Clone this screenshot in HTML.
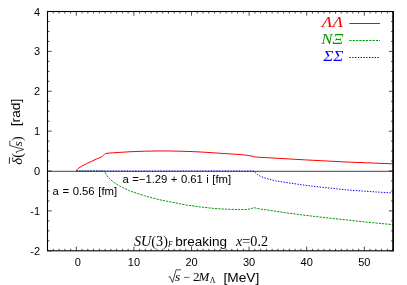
<!DOCTYPE html>
<html><head><meta charset="utf-8"><style>
html,body{margin:0;padding:0;background:#fff;}
svg{display:block;will-change:transform}
text{font-family:"Liberation Sans",sans-serif;font-size:11px;fill:#000}
.s{font-family:"Liberation Serif",serif;font-style:italic}
.r{font-family:"Liberation Serif",serif;font-style:normal}
</style></head><body>
<svg width="407" height="285" viewBox="0 0 407 285">
<rect width="407" height="285" fill="#fff"/>
<g style="filter:opacity(1)">
<path d="M47.5,171.3 H393.1" stroke="#000" stroke-width="0.75" fill="none"/>
<path d="M76.30,171.03 L76.88,169.84 L78.09,168.52 L81.83,166.13 L86.73,163.62 L91.68,161.22 L96.63,159.03 L101.53,156.91 L103.31,155.60 L104.52,154.28 L105.10,153.64 L105.79,153.40 L112.53,152.81 L120.08,152.37 L131.02,151.69 L144.61,151.21 L156.94,150.97 L169.04,150.97 L179.98,151.21 L193.80,151.65 L205.90,152.29 L215.00,152.93 L227.21,153.72 L239.88,154.52 L248.24,155.44 L251.98,156.08 L254.28,156.76 L256.59,157.07 L259.30,157.23 L265.23,157.59 L304.40,159.83 L345.00,161.94 L393.10,163.85" stroke="#f00" stroke-width="1" fill="none" stroke-linejoin="round"/>
<path d="M76.30,171.03 L104.52,171.03 L106.08,174.38 L107.98,177.02 L110.00,179.13 L112.30,181.20 L116.62,184.19 L119.79,186.03 L125.03,188.58 L129.70,190.94 L137.36,193.45 L144.27,195.64 L149.45,197.16 L162.12,200.35 L174.80,202.74 L185.74,204.93 L200.02,206.93 L214.54,208.52 L224.91,209.12 L235.05,209.48 L243.34,209.56 L247.37,209.40 L250.83,208.72 L254.05,207.57 L256.59,208.32 L259.47,208.88 L271.91,210.68 L284.81,212.67 L310.16,215.90 L334.92,218.77 L345.06,219.77 L364.30,221.88 L393.10,224.68" stroke="#009900" stroke-width="1" fill="none" stroke-dasharray="2.2,1.1"/>
<path d="M76.30,171.03 L254.00,171.03 L255.44,172.63 L257.28,174.42 L260.62,176.42 L263.38,177.53 L269.61,179.33 L275.71,180.84 L281.93,181.84 L287.98,182.76 L295.01,183.80 L307.28,185.55 L319.37,187.03 L332.04,188.30 L345.00,189.74 L364.30,191.17 L393.10,193.05" stroke="#0000ff" stroke-width="1" fill="none" stroke-dasharray="1.4,1.4"/>
<rect x="47.5" y="11.5" width="345.6" height="239.3" fill="none" stroke="#000" stroke-width="1.1"/>
<path d="M393.15,10.95 V251.35000000000002" stroke="#000" stroke-width="1.5"/>
<path d="M47.50,250.8 v-2.0 M47.50,11.5 v2.0 M53.26,250.8 v-2.0 M53.26,11.5 v2.0 M59.02,250.8 v-2.0 M59.02,11.5 v2.0 M64.78,250.8 v-2.0 M64.78,11.5 v2.0 M70.54,250.8 v-2.0 M70.54,11.5 v2.0 M76.30,250.8 v-4.2 M76.30,11.5 v4.2 M82.06,250.8 v-2.0 M82.06,11.5 v2.0 M87.82,250.8 v-2.0 M87.82,11.5 v2.0 M93.58,250.8 v-2.0 M93.58,11.5 v2.0 M99.34,250.8 v-2.0 M99.34,11.5 v2.0 M105.10,250.8 v-2.0 M105.10,11.5 v2.0 M110.86,250.8 v-2.0 M110.86,11.5 v2.0 M116.62,250.8 v-2.0 M116.62,11.5 v2.0 M122.38,250.8 v-2.0 M122.38,11.5 v2.0 M128.14,250.8 v-2.0 M128.14,11.5 v2.0 M133.90,250.8 v-4.2 M133.90,11.5 v4.2 M139.66,250.8 v-2.0 M139.66,11.5 v2.0 M145.42,250.8 v-2.0 M145.42,11.5 v2.0 M151.18,250.8 v-2.0 M151.18,11.5 v2.0 M156.94,250.8 v-2.0 M156.94,11.5 v2.0 M162.70,250.8 v-2.0 M162.70,11.5 v2.0 M168.46,250.8 v-2.0 M168.46,11.5 v2.0 M174.22,250.8 v-2.0 M174.22,11.5 v2.0 M179.98,250.8 v-2.0 M179.98,11.5 v2.0 M185.74,250.8 v-2.0 M185.74,11.5 v2.0 M191.50,250.8 v-4.2 M191.50,11.5 v4.2 M197.26,250.8 v-2.0 M197.26,11.5 v2.0 M203.02,250.8 v-2.0 M203.02,11.5 v2.0 M208.78,250.8 v-2.0 M208.78,11.5 v2.0 M214.54,250.8 v-2.0 M214.54,11.5 v2.0 M220.30,250.8 v-2.0 M220.30,11.5 v2.0 M226.06,250.8 v-2.0 M226.06,11.5 v2.0 M231.82,250.8 v-2.0 M231.82,11.5 v2.0 M237.58,250.8 v-2.0 M237.58,11.5 v2.0 M243.34,250.8 v-2.0 M243.34,11.5 v2.0 M249.10,250.8 v-4.2 M249.10,11.5 v4.2 M254.86,250.8 v-2.0 M254.86,11.5 v2.0 M260.62,250.8 v-2.0 M260.62,11.5 v2.0 M266.38,250.8 v-2.0 M266.38,11.5 v2.0 M272.14,250.8 v-2.0 M272.14,11.5 v2.0 M277.90,250.8 v-2.0 M277.90,11.5 v2.0 M283.66,250.8 v-2.0 M283.66,11.5 v2.0 M289.42,250.8 v-2.0 M289.42,11.5 v2.0 M295.18,250.8 v-2.0 M295.18,11.5 v2.0 M300.94,250.8 v-2.0 M300.94,11.5 v2.0 M306.70,250.8 v-4.2 M306.70,11.5 v4.2 M312.46,250.8 v-2.0 M312.46,11.5 v2.0 M318.22,250.8 v-2.0 M318.22,11.5 v2.0 M323.98,250.8 v-2.0 M323.98,11.5 v2.0 M329.74,250.8 v-2.0 M329.74,11.5 v2.0 M335.50,250.8 v-2.0 M335.50,11.5 v2.0 M341.26,250.8 v-2.0 M341.26,11.5 v2.0 M347.02,250.8 v-2.0 M347.02,11.5 v2.0 M352.78,250.8 v-2.0 M352.78,11.5 v2.0 M358.54,250.8 v-2.0 M358.54,11.5 v2.0 M364.30,250.8 v-4.2 M364.30,11.5 v4.2 M370.06,250.8 v-2.0 M370.06,11.5 v2.0 M375.82,250.8 v-2.0 M375.82,11.5 v2.0 M381.58,250.8 v-2.0 M381.58,11.5 v2.0 M387.34,250.8 v-2.0 M387.34,11.5 v2.0 M393.10,250.8 v-2.0 M393.10,11.5 v2.0 M47.5,250.80 h4.2 M393.1,250.80 h-4.2 M47.5,240.83 h2.0 M393.1,240.83 h-2.0 M47.5,230.86 h2.0 M393.1,230.86 h-2.0 M47.5,220.89 h2.0 M393.1,220.89 h-2.0 M47.5,210.92 h4.2 M393.1,210.92 h-4.2 M47.5,200.95 h2.0 M393.1,200.95 h-2.0 M47.5,190.98 h2.0 M393.1,190.98 h-2.0 M47.5,181.00 h2.0 M393.1,181.00 h-2.0 M47.5,171.03 h4.2 M393.1,171.03 h-4.2 M47.5,161.06 h2.0 M393.1,161.06 h-2.0 M47.5,151.09 h2.0 M393.1,151.09 h-2.0 M47.5,141.12 h2.0 M393.1,141.12 h-2.0 M47.5,131.15 h4.2 M393.1,131.15 h-4.2 M47.5,121.18 h2.0 M393.1,121.18 h-2.0 M47.5,111.21 h2.0 M393.1,111.21 h-2.0 M47.5,101.24 h2.0 M393.1,101.24 h-2.0 M47.5,91.27 h4.2 M393.1,91.27 h-4.2 M47.5,81.30 h2.0 M393.1,81.30 h-2.0 M47.5,71.33 h2.0 M393.1,71.33 h-2.0 M47.5,61.35 h2.0 M393.1,61.35 h-2.0 M47.5,51.38 h4.2 M393.1,51.38 h-4.2 M47.5,41.41 h2.0 M393.1,41.41 h-2.0 M47.5,31.44 h2.0 M393.1,31.44 h-2.0 M47.5,21.47 h2.0 M393.1,21.47 h-2.0 M47.5,11.50 h4.2 M393.1,11.50 h-4.2" stroke="#000" stroke-width="0.7" fill="none"/>
<text x="77.7" y="266.3" text-anchor="middle">0</text><text x="133.9" y="266.3" text-anchor="middle">10</text><text x="191.5" y="266.3" text-anchor="middle">20</text><text x="249.1" y="266.3" text-anchor="middle">30</text><text x="306.7" y="266.3" text-anchor="middle">40</text><text x="364.3" y="266.3" text-anchor="middle">50</text>
<text x="40" y="254.8" text-anchor="end">-2</text><text x="40" y="214.9" text-anchor="end">-1</text><text x="40" y="175.0" text-anchor="end">0</text><text x="40" y="135.2" text-anchor="end">1</text><text x="40" y="95.3" text-anchor="end">2</text><text x="40" y="55.4" text-anchor="end">3</text><text x="40" y="15.5" text-anchor="end">4</text>
<text x="52.5" y="195.3" style="word-spacing:0.5px;font-size:11.3px">a = 0.56 [fm]</text>
<text x="122.5" y="183.2" style="word-spacing:0.3px;font-size:11.3px">a =−1.29 + 0.61 i [fm]</text>
<text x="134" y="245.6" style="font-size:13.5px"><tspan class="s" style="font-size:14.2px">SU</tspan><tspan class="r" style="font-size:14.2px">(3)</tspan><tspan class="s" style="font-size:7.5px" dy="1.5">F</tspan></text>
<text x="175.2" y="245.6" style="font-size:13.5px">breaking</text>
<text x="236" y="245.6" style="font-size:13.5px"><tspan class="s" style="font-size:14.2px">x</tspan><tspan class="r" style="font-size:14.2px">=0.2</tspan></text>
<path d="M168.6,277.3 l1.4,-0.8 l2.5,6 l3.6,-12.7 H181" stroke="#000" stroke-width="0.7" fill="none"/>
<text x="175" y="281.2" class="s" style="font-size:13.5px">s</text>
<text x="183.6" y="281.2" class="r" style="font-size:12px">−</text>
<text x="192.9" y="281.2" class="r" style="font-size:13px">2</text>
<text x="198.4" y="281.2" class="s" style="font-size:13px">M</text>
<text x="209.8" y="283" class="r" style="font-size:8px">Λ</text>
<text x="223.5" y="281.6" style="font-size:13.7px">[MeV]</text>
<g transform="translate(21.5,165) rotate(-90)"><text x="0" y="0" style="font-size:13.5px"><tspan class="s" style="font-size:15px" x="0.3">δ</tspan><tspan class="r" style="font-size:14px" x="7.2">(</tspan><tspan class="s" style="font-size:13.5px" x="18.6">s</tspan><tspan class="r" style="font-size:14px" x="24">)</tspan><tspan x="38.8" y="-1.1" style="font-size:13.7px">[rad]</tspan></text>
<path d="M1.2,-12.1 H7.8" stroke="#000" stroke-width="0.8"/>
<path d="M11.7,-4.6 l1.4,-0.8 l2.5,7.6 l3.8,-13.9 H24.4" stroke="#000" stroke-width="0.7" fill="none"/>
</g>
<text transform="translate(343.2,27.4) scale(1.14,1)" text-anchor="end" class="s" style="font-size:15.5px;fill:#f00">ΛΛ</text>
<text transform="translate(343.4,44.3) scale(1.13,1)" text-anchor="end" class="s" style="font-size:15px;fill:#009900">NΞ</text>
<text transform="translate(343.4,60.9) scale(1.1,1)" text-anchor="end" class="s" style="font-size:15.5px;fill:#00f">ΣΣ</text>
<path d="M349.4,23.5 H380" stroke="#f00" stroke-width="1"/>
<path d="M349.4,40.5 H380" stroke="#009900" stroke-width="1" stroke-dasharray="2.2,1.1"/>
<path d="M349.4,57.5 H380" stroke="#00f" stroke-width="1" stroke-dasharray="1.4,1.4"/>
</g>
</svg></body></html>
